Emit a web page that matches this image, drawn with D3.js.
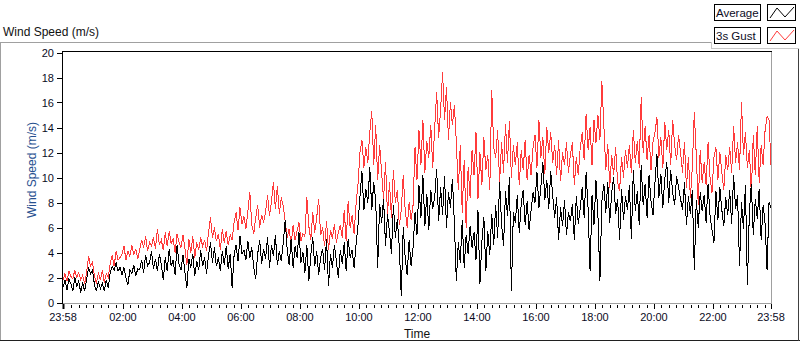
<!DOCTYPE html>
<html>
<head>
<meta charset="utf-8">
<script src="https://cdn.jsdelivr.net/npm/d3@7"></script>
<style>
  body { margin: 0; background: #fff; }
  svg { display: block; font-family: "Liberation Sans", Arial, sans-serif; }
</style>
</head>
<body>
<div id="chart"></div>
<script>
// Wind speed over one day, sampled every 4 minutes (23:58 -> 23:58)
const averageSpeed = [
  1.2, 1.8, 1.0, 1.9, 1.5, 0.9, 2.0, 1.3, 1.7, 0.8, 1.6,
  0.9, 1.8, 2.8, 2.3, 2.6,
  1.4, 0.9, 1.7, 1.1, 1.5, 0.9, 1.8, 1.2,
  2.4, 2.9, 2.6, 3.2, 2.5, 2.8,
  2.2, 2.8, 2.0, 1.4, 2.6, 2.3, 3.0, 2.1, 2.7,
  2.6, 3.4, 2.4, 3.8, 2.9, 3.2, 4.1, 2.7, 3.5, 2.5, 3.9,
  3.0, 1.8, 3.6, 2.5, 4.3, 2.9, 3.4, 2.2, 4.6, 3.1, 2.6, 3.8,
  2.4, 1.2, 3.5, 2.8, 3.9, 2.1, 3.3, 2.6, 4.2, 2.9, 3.6, 2.3,
  3.8, 4.8, 3.2, 4.4, 2.9,
  3.6, 2.5, 4.1, 3.0, 4.5, 2.7, 3.9,
  1.2, 3.8, 4.6, 3.3, 5.3, 3.9, 4.2, 3.4, 4.9, 3.6,
  4.4, 2.8, 1.9, 3.9, 5.0, 3.1, 4.3,
  3.5, 5.2, 2.8, 4.6, 3.7, 5.4, 3.0, 4.1, 3.3, 4.8,
  6.6, 4.2, 3.0, 5.1, 2.8, 4.5, 3.6, 5.6, 3.2, 4.0,
  2.4, 4.6, 1.7, 3.8, 5.2, 2.9, 4.1, 2.2, 3.6,
  4.3, 2.6, 5.1, 1.3, 3.9, 2.8, 4.6, 3.3, 2.0, 4.2,
  3.1, 4.8, 2.5, 5.1, 3.6, 4.2, 2.8, 4.6,
  6.2, 8.5, 10.5, 7.4, 9.1, 8.0,
  10.8, 7.4, 9.6, 8.2, 2.8, 7.9,
  6.4, 8.3, 4.5, 7.1, 5.6, 3.9, 7.8, 5.2, 6.7, 4.4, 0.5, 6.0,
  3.6, 2.2, 5.0, 2.9, 4.4,
  7.2, 5.4, 9.4, 6.8, 10.2, 6.1, 8.7, 5.8, 9.0, 7.5,
  8.4, 10.7, 6.5, 9.2, 7.0, 10.1, 6.0, 8.8, 7.6, 9.9, 6.4, 1.7,
  4.8, 3.2, 6.6, 2.8, 5.4, 3.9, 6.1, 4.4,
  5.6, 3.4, 7.4, 1.5, 4.9, 6.8, 2.5, 5.7, 3.8, 7.1, 4.6,
  7.8, 5.2, 9.6, 6.3, 4.5, 8.9, 6.9, 10.0, 0.9, 7.2,
  6.4, 8.6, 5.6, 7.9, 9.0, 6.2, 8.1, 5.8, 7.4, 8.8,
  8.0, 10.4, 7.6, 9.3, 11.2, 8.2, 9.8, 7.5, 10.5, 8.6,
  6.8, 8.4, 5.0, 7.6, 6.1, 8.2, 5.4, 7.2, 6.5,
  7.9, 5.0, 8.5, 6.3, 7.5,
  9.2, 6.8, 10.4, 7.5, 2.5, 8.6, 6.2, 9.8, 7.0, 1.7, 8.1, 9.5,
  7.2, 9.6, 6.4, 8.8, 10.0, 7.1, 8.3, 5.0, 9.1, 6.6, 8.5, 7.4,
  9.4, 5.1, 10.6, 7.3, 8.9, 6.2, 11.0, 7.8, 9.5, 6.8, 10.2, 8.1, 7.0,
  9.6, 11.9, 8.4, 10.3, 7.6, 9.9, 11.2, 8.0, 10.6, 8.8, 7.8, 10.1, 9.2, 8.3,
  7.4, 9.6, 6.2, 8.5, 7.1, 9.0, 2.6, 8.2, 6.0, 8.8, 7.3,
  8.6, 6.4, 9.5, 7.0, 5.8, 4.8, 8.9, 6.6, 9.2, 7.4, 6.1, 8.4, 7.0,
  9.0, 6.3, 10.2, 7.5, 8.6, 2.9, 8.0, 5.9, 9.4, 1.4,
  7.2, 9.5, 5.4, 8.3, 6.7, 9.1, 5.0, 7.8, 6.3, 2.6, 8.0, 7.6
];

const gustSpeed = [
  1.8, 2.3, 1.7, 2.5, 2.1, 1.9, 2.6, 2.0, 2.4, 1.8, 2.2,
  1.5, 2.4, 3.7, 2.9, 3.2,
  2.1, 1.5, 2.4, 1.8, 2.6, 1.6, 2.3, 2.0,
  3.1, 3.8, 2.9, 4.1, 3.4, 3.6,
  3.9, 4.5, 3.4, 4.1, 3.7, 4.6, 3.8, 4.3, 3.5,
  4.2, 5.0, 4.4, 5.3, 4.1, 4.8, 4.5, 5.2, 4.3, 5.9, 4.6,
  5.0, 4.2, 5.6, 4.5, 5.7, 4.7, 5.1, 4.0, 5.5, 4.8, 4.4, 5.4,
  4.3, 3.0, 5.1, 4.0, 5.3, 3.6, 4.8, 4.2, 5.2, 4.5, 5.0, 4.1,
  5.6, 6.8, 5.2, 6.0, 4.9,
  5.5, 4.2, 5.9, 4.8, 5.7, 4.6, 5.4,
  5.0, 6.4, 7.2, 5.8, 7.6, 6.3, 6.9, 5.9, 7.3, 8.8,
  6.2, 5.5, 6.8, 7.8, 6.0, 7.0, 6.4,
  7.2, 8.6, 6.9, 8.1, 9.6, 7.5, 9.3, 7.1, 8.4, 7.7,
  6.5, 5.2, 5.9, 4.6, 6.2, 5.0, 5.7, 6.4, 4.9, 5.5,
  5.3, 8.4, 6.1, 5.0, 7.2, 5.6, 6.8, 8.3, 5.4,
  6.0, 4.5, 6.5, 4.2, 5.8, 5.1, 6.3, 4.8, 5.6, 6.2,
  5.2, 7.4, 4.9, 8.1, 6.0, 7.0, 5.5, 7.8,
  9.5, 12.0, 13.0, 10.8, 12.4, 11.2,
  13.6, 15.3, 11.0, 14.2, 9.8, 12.6,
  10.4, 8.2, 11.2, 7.0, 9.6, 6.8, 10.6, 8.0, 9.0, 6.2, 7.4, 10.2,
  7.4, 6.0, 8.0, 6.6, 7.8,
  12.4, 9.8, 13.8, 11.0, 14.6, 10.4, 12.9, 11.6, 14.2, 10.8,
  14.0, 16.8, 13.2, 15.4, 18.4, 14.6, 17.2, 13.0, 16.0, 14.2, 15.8, 12.8,
  9.0, 12.6, 7.2, 11.4, 6.0, 10.8, 8.4, 12.2,
  10.2, 13.6, 8.3, 12.0, 9.4, 13.2, 10.6, 11.8, 9.0, 17.0, 12.4,
  11.6, 13.8, 9.6, 12.8, 10.4, 14.3, 11.2, 14.5, 10.0, 12.6,
  11.0, 12.8, 9.4, 12.2, 10.6, 13.0, 9.8, 11.8, 10.2, 12.4,
  13.4, 10.8, 14.6, 11.6, 13.2, 10.3, 14.0, 12.0, 13.6, 11.2,
  12.6, 10.2, 13.0, 9.7, 12.0, 11.0, 12.8, 10.4, 11.8,
  12.8, 9.4, 11.6, 10.2, 12.4,
  13.6, 11.4, 15.1, 12.2, 14.0, 11.0, 14.6, 12.8, 15.0, 13.0, 17.7, 14.2,
  10.6, 12.7, 9.2, 11.8, 10.2, 12.4, 9.6, 8.9, 11.6, 10.0, 12.2, 10.8,
  12.6, 10.4, 13.8, 11.2, 12.9, 10.8, 16.4, 12.0, 14.1, 11.4, 13.4, 10.6, 12.8,
  13.6, 14.8, 11.6, 13.2, 10.8, 14.4, 12.2, 13.8, 11.0, 14.6, 12.6, 11.4, 13.4, 12.0,
  10.4, 12.8, 9.2, 11.6, 8.4, 10.8, 15.2, 11.8, 7.8, 12.2, 9.6,
  11.2, 9.4, 12.8, 10.0, 8.8, 11.6, 12.4, 9.8, 12.0, 10.4, 9.0, 11.8, 10.6,
  12.4, 10.4, 14.1, 11.2, 12.8, 10.6, 16.0, 11.8, 13.6, 10.8,
  12.2, 8.7, 13.4, 10.2, 14.1, 9.6, 12.6, 11.0, 13.8, 14.9, 14.6, 11.0
];

const yTicks = [0, 2, 4, 6, 8, 10, 12, 14, 16, 18, 20];
// minutes after 23:58 for the labelled ticks
const xTickMinutes = [0, 122, 242, 362, 482, 602, 722, 842, 962, 1082, 1202, 1322, 1440];
const xTickLabels = ["23:58", "02:00", "04:00", "06:00", "08:00", "10:00", "12:00",
  "14:00", "16:00", "18:00", "20:00", "22:00", "23:58"];

const legendNames = ["Average", "3s Gust"];
const legendColors = ["#000000", "#ff3b3b"];

const width = 800;
const height = 342;

const svg = d3.select("#chart")
  .append("svg")
  .attr("width", width)
  .attr("height", height);

const x = d3.scaleLinear().domain([0, 1440]).range([63, 771]);
const y = d3.scaleLinear().domain([0, 20]).range([302.5, 52.5]);

// outer frame
svg.append("line").attr("x1", 0).attr("x2", 712).attr("y1", 42.5).attr("y2", 42.5)
  .attr("stroke", "#a0a0a0");
svg.append("line").attr("x1", 0.5).attr("x2", 0.5).attr("y1", 42).attr("y2", 341)
  .attr("stroke", "#a0a0a0");
svg.append("line").attr("x1", 0).attr("x2", 800).attr("y1", 340.5).attr("y2", 340.5)
  .attr("stroke", "#202020");
svg.append("line").attr("x1", 798.5).attr("x2", 798.5).attr("y1", 48).attr("y2", 341)
  .attr("stroke", "#404040");

// legend panel edge
svg.append("line").attr("x1", 711.5).attr("x2", 711.5).attr("y1", 42).attr("y2", 49)
  .attr("stroke", "#c8c8c8");
svg.append("line").attr("x1", 711).attr("x2", 799).attr("y1", 48.5).attr("y2", 48.5)
  .attr("stroke", "#c8c8c8");

svg.append("text")
  .attr("x", 3)
  .attr("y", 36)
  .attr("font-size", 12)
  .attr("fill", "#111")
  .text("Wind Speed (m/s)");

// plot frame
const plotLeft = 62, plotRight = 772, plotTop = 51, plotBottom = 303;
svg.append("line").attr("x1", plotRight - 0.5).attr("x2", plotRight - 0.5)
  .attr("y1", plotTop).attr("y2", plotBottom).attr("stroke", "#a0a0a0");
svg.append("line").attr("x1", plotLeft).attr("x2", plotRight)
  .attr("y1", plotBottom + 0.5).attr("y2", plotBottom + 0.5).attr("stroke", "#a0a0a0");

const lineGen = (values) => d3.line()
  .x((d, i) => x(i * 1440 / (values.length - 1)))
  .y(d => y(d))(values);

const series = [gustSpeed, averageSpeed];
const seriesColors = [legendColors[1], legendColors[0]];

svg.append("g")
  .selectAll("path")
  .data(series)
  .join("path")
  .attr("d", d => lineGen(d))
  .attr("fill", "none")
  .attr("stroke", (d, i) => seriesColors[i])
  .attr("stroke-width", 1)
  .attr("shape-rendering", "crispEdges");

svg.append("line").attr("x1", plotLeft).attr("x2", plotRight)
  .attr("y1", plotTop + 0.5).attr("y2", plotTop + 0.5).attr("stroke", "#000");
svg.append("line").attr("x1", plotLeft + 0.5).attr("x2", plotLeft + 0.5)
  .attr("y1", plotTop).attr("y2", plotBottom + 1).attr("stroke", "#000");

// y axis
const yAxis = svg.append("g");
yAxis.selectAll("line")
  .data(yTicks)
  .join("line")
  .attr("x1", 57)
  .attr("x2", 62)
  .attr("y1", d => Math.round(y(d)) + 0.5)
  .attr("y2", d => Math.round(y(d)) + 0.5)
  .attr("stroke", "#000");
yAxis.selectAll("text")
  .data(yTicks)
  .join("text")
  .attr("x", 54)
  .attr("y", d => y(d) + 4)
  .attr("text-anchor", "end")
  .attr("font-size", 11)
  .attr("fill", "#0b0b1e")
  .text(d => d);

svg.append("text")
  .attr("transform", "translate(36,170) rotate(-90)")
  .attr("text-anchor", "middle")
  .attr("font-size", 12)
  .attr("fill", "#27508f")
  .text("Wind Speed (m/s)");

// x axis
const minorTicks = d3.range(2, 1440, 15).filter(m => !xTickMinutes.includes(m) && m > 3);
const xAxis = svg.append("g");
xAxis.selectAll("line.minor")
  .data(minorTicks)
  .join("line")
  .attr("class", "minor")
  .attr("x1", d => Math.round(x(d)) + 0.5)
  .attr("x2", d => Math.round(x(d)) + 0.5)
  .attr("y1", 305)
  .attr("y2", 308)
  .attr("stroke", "#000");
xAxis.selectAll("line.major")
  .data(xTickMinutes)
  .join("line")
  .attr("class", "major")
  .attr("x1", d => Math.round(x(d)) + 0.5)
  .attr("x2", d => Math.round(x(d)) + 0.5)
  .attr("y1", 304)
  .attr("y2", 309)
  .attr("stroke", "#000")
  .attr("stroke-width", (d, i) => i === 0 ? 2 : 1);
xAxis.selectAll("text")
  .data(xTickMinutes)
  .join("text")
  .attr("x", d => x(d))
  .attr("y", 321)
  .attr("text-anchor", "middle")
  .attr("font-size", 11)
  .attr("fill", "#0b0b1e")
  .text((d, i) => xTickLabels[i]);

svg.append("text")
  .attr("x", (plotLeft + plotRight) / 2)
  .attr("y", 338)
  .attr("text-anchor", "middle")
  .attr("font-size", 12)
  .attr("fill", "#111")
  .text("Time");

// legend
const legend = svg.append("g")
  .selectAll("g")
  .data(legendNames)
  .join("g")
  .attr("transform", (d, i) => `translate(0,${i * 23})`);

legend.append("rect")
  .attr("x", 714.5).attr("y", 4.5)
  .attr("width", 46).attr("height", 16)
  .attr("fill", "#fff").attr("stroke", "#000");
legend.append("text")
  .attr("x", 716).attr("y", 17)
  .attr("font-size", 11.5)
  .attr("fill", "#0b0b1e")
  .text(d => d);
legend.append("rect")
  .attr("x", 767.5).attr("y", 4.5)
  .attr("width", 28).attr("height", 16)
  .attr("fill", "#fff").attr("stroke", "#000");
legend.append("polyline")
  .attr("points", "770,18 777,8 785,17 794,7")
  .attr("fill", "none")
  .attr("stroke", (d, i) => legendColors[i]);
</script>
</body>
</html>
